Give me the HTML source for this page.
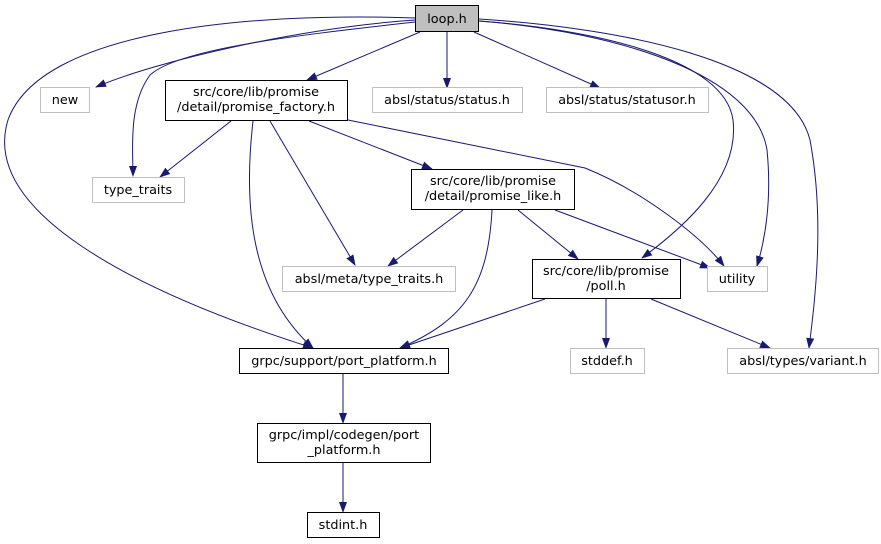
<!DOCTYPE html>
<html><head><meta charset="utf-8"><style>
html,body{margin:0;padding:0;background:#fff;}
svg{display:block;}
text{font-family:"DejaVu Sans","Liberation Sans",sans-serif;font-size:12.8px;fill:#000;}
</style></head><body>
<svg width="881" height="544" viewBox="0 0 881 544" xmlns="http://www.w3.org/2000/svg">
<defs><marker id="a" markerWidth="11" markerHeight="8" refX="10" refY="4" orient="auto" markerUnits="userSpaceOnUse"><path d="M0,0 L11,4 L0,8 z" fill="#191970"/></marker></defs>
<g fill="none" stroke="#191970" stroke-width="1" marker-end="url(#a)">
<path d="M415,20 C300,28 160,60 96,87"/>
<path d="M415,22 C300,35 180,48 150,75 C128,105 133,150 133,176"/>
<path d="M415,18 C250,12 40,30 8,120 C-20,210 130,290 313,348"/>
<path d="M420,32 L307,80"/>
<path d="M447,32 L447,88"/>
<path d="M474,32 L600,88"/>
<path d="M479,21 C600,30 725,60 733,120 C740,180 680,230 642,258"/>
<path d="M479,21 C620,32 755,75 767,150 C772,200 765,240 757,266"/>
<path d="M479,19 C620,28 790,60 810,140 C825,220 815,300 809,348"/>
<path d="M231,121 L160,177"/>
<path d="M253,121 C244,200 248,290 313,348"/>
<path d="M270,121 L355,265"/>
<path d="M309,121 L432,169"/>
<path d="M348,120 L585,168 C640,190 700,235 724,266"/>
<path d="M463,210 L388,266"/>
<path d="M492,210 C488,285 465,320 400,348"/>
<path d="M518,210 L578,259"/>
<path d="M555,210 L710,268"/>
<path d="M545,299 L400,348"/>
<path d="M606,299 L606,348"/>
<path d="M651,299 L770,348"/>
<path d="M343,374 L343,423"/>
<path d="M343,463 L343,512"/>
</g>
<g stroke-width="1">
<rect x="415.5" y="5.5" width="63" height="26" fill="#bfbfbf" stroke="#000"/>
<rect x="40.5" y="87.5" width="49" height="25" fill="#fff" stroke="#bfbfbf"/>
<rect x="165.5" y="80.5" width="182" height="40" fill="#fff" stroke="#000"/>
<rect x="372.5" y="87.5" width="150" height="25" fill="#fff" stroke="#bfbfbf"/>
<rect x="546.5" y="87.5" width="162" height="25" fill="#fff" stroke="#bfbfbf"/>
<rect x="92.5" y="177.5" width="92" height="25" fill="#fff" stroke="#bfbfbf"/>
<rect x="411.5" y="169.5" width="163" height="40" fill="#fff" stroke="#000"/>
<rect x="282.5" y="266.5" width="173" height="25" fill="#fff" stroke="#bfbfbf"/>
<rect x="532.5" y="259.5" width="148" height="39" fill="#fff" stroke="#000"/>
<rect x="707.5" y="266.5" width="60" height="25" fill="#fff" stroke="#bfbfbf"/>
<rect x="239.5" y="348.5" width="209" height="25" fill="#fff" stroke="#000"/>
<rect x="570.5" y="348.5" width="74" height="25" fill="#fff" stroke="#bfbfbf"/>
<rect x="727.5" y="348.5" width="151" height="25" fill="#fff" stroke="#bfbfbf"/>
<rect x="257.5" y="423.5" width="173" height="39" fill="#fff" stroke="#000"/>
<rect x="307.5" y="512.5" width="72" height="25" fill="#fff" stroke="#000"/>
</g>
<g text-anchor="middle">
<text x="447" y="23">loop.h</text>
<text x="65" y="104">new</text>
<text x="256" y="96">src/core/lib/promise</text>
<text x="256" y="111">/detail/promise_factory.h</text>
<text x="447" y="104">absl/status/status.h</text>
<text x="627" y="104">absl/status/statusor.h</text>
<text x="138" y="194">type_traits</text>
<text x="493" y="185">src/core/lib/promise</text>
<text x="493" y="200">/detail/promise_like.h</text>
<text x="369" y="283">absl/meta/type_traits.h</text>
<text x="606" y="275">src/core/lib/promise</text>
<text x="606" y="290">/poll.h</text>
<text x="737" y="283">utility</text>
<text x="344" y="365">grpc/support/port_platform.h</text>
<text x="607" y="365">stddef.h</text>
<text x="803" y="365">absl/types/variant.h</text>
<text x="344" y="439">grpc/impl/codegen/port</text>
<text x="344" y="454">_platform.h</text>
<text x="343" y="529">stdint.h</text>
</g>
</svg>
</body></html>
